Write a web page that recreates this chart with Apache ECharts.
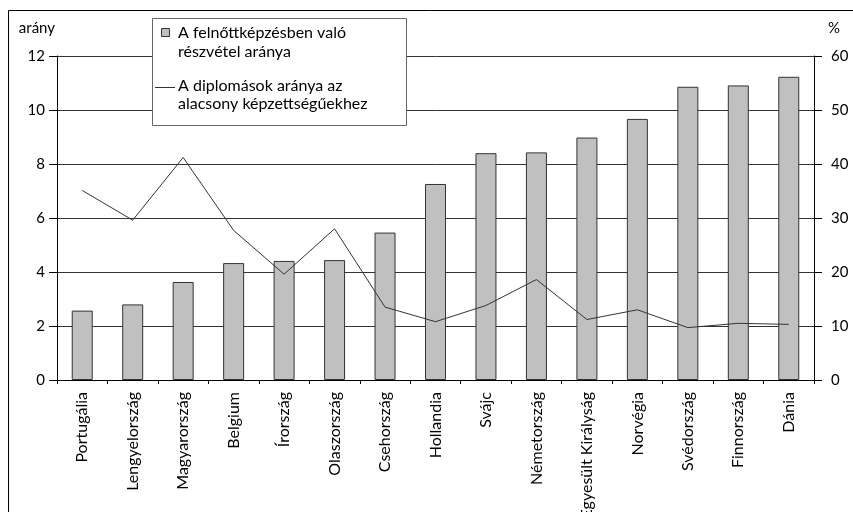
<!DOCTYPE html>
<html>
<head>
<meta charset="utf-8">
<script src="https://cdn.jsdelivr.net/npm/echarts@6/dist/echarts.min.js"></script>
<style>
html,body{margin:0;padding:0;background:#fff;}
#c{width:853px;height:512px;}
</style>
</head>
<body>
<div id="c"></div>
<script>
var categories = ['Portugália','Lengyelország','Magyarország','Belgium','Írország','Olaszország','Csehország','Hollandia','Svájc','Németország','Egyesült Királyság','Norvégia','Svédország','Finnország','Dánia'];
var participation = [2.57, 2.80, 3.63, 4.33, 4.41, 4.44, 5.46, 7.26, 8.40, 8.43, 8.98, 9.67, 10.86, 10.91, 11.23];
var graduatesPct = [35.1, 29.6, 41.2, 27.7, 19.6, 28.0, 13.5, 10.8, 13.8, 18.6, 11.2, 13.0, 9.7, 10.5, 10.3];
var leftTicks = [0, 2, 4, 6, 8, 10, 12];
var rightTicks = [0, 10, 20, 30, 40, 50, 60];
var seriesNames = ['A felnőttképzésben való\nrészvétel aránya', 'A diplomások aránya az\nalacsony képzettségűekhez'];

var FONT = 'Lato';
var chart = echarts.init(document.getElementById('c'), null, {renderer: 'canvas'});
chart.setOption({
  backgroundColor: '#fff',
  textStyle: {fontFamily: FONT, color: '#000'},
  animation: false,
  grid: {left: 57, right: 39, top: 56, bottom: 132, containLabel: false, outerBoundsMode: 'none'},
  xAxis: {
    type: 'category',
    data: categories,
    axisLine: {lineStyle: {color: '#000', width: 1}},
    axisTick: {show: true, length: 4, lineStyle: {color: '#000'}},
    axisLabel: {rotate: 90, fontSize: 16, color: '#000', margin: 12, fontFamily: FONT}
  },
  yAxis: [{
    type: 'value', min: leftTicks[0], max: leftTicks[leftTicks.length - 1], interval: 2,
    name: 'arány', nameLocation: 'end', nameGap: 20,
    nameTextStyle: {fontSize: 15, color: '#000', align: 'right', padding: [0, 2, 0, 0], fontFamily: FONT},
    axisLine: {show: true, lineStyle: {color: '#000'}},
    axisTick: {show: true, length: 8, lineStyle: {color: '#000'}},
    axisLabel: {fontSize: 15, color: '#000', margin: 12, fontFamily: FONT},
    splitLine: {show: true, lineStyle: {color: '#333', width: 1}}
  }, {
    type: 'value', min: rightTicks[0], max: rightTicks[rightTicks.length - 1], interval: 10,
    name: '%', nameLocation: 'end', nameGap: 20,
    nameTextStyle: {fontSize: 15, color: '#000', align: 'left', padding: [0, 0, 0, 14], fontFamily: FONT},
    axisLine: {show: true, lineStyle: {color: '#000'}},
    axisTick: {show: true, length: 8, lineStyle: {color: '#000'}},
    axisLabel: {fontSize: 15, color: '#000', margin: 17, fontFamily: FONT},
    splitLine: {show: false}
  }],
  series: [{
    name: seriesNames[0],
    type: 'bar',
    data: participation,
    barWidth: 21,
    itemStyle: {color: '#c0c0c0', borderColor: '#333', borderWidth: 1}
  }, {
    name: seriesNames[1],
    type: 'line',
    yAxisIndex: 1,
    data: graduatesPct,
    symbol: 'none',
    lineStyle: {color: '#333', width: 1}
  }],
  graphic: [
    {type: 'line', shape: {x1: 8.5, y1: 10.5, x2: 853, y2: 10.5}, style: {stroke: '#000', lineWidth: 1}},
    {type: 'line', shape: {x1: 8.5, y1: 10.5, x2: 8.5, y2: 512}, style: {stroke: '#000', lineWidth: 1}},
    {type: 'rect', z: 100, shape: {x: 152.5, y: 18.5, width: 254, height: 107}, style: {fill: '#fff', stroke: '#666', lineWidth: 1}},
    {type: 'rect', z: 101, shape: {x: 161.5, y: 28.5, width: 8, height: 8}, style: {fill: '#c0c0c0', stroke: '#333', lineWidth: 1}},
    {type: 'text', z: 101, left: 178, top: 23, style: {text: seriesNames[0], font: '16px ' + FONT, fill: '#000', lineHeight: 19}},
    {type: 'line', z: 101, shape: {x1: 155, y1: 87.5, x2: 175, y2: 87.5}, style: {stroke: '#333', lineWidth: 1}},
    {type: 'text', z: 101, left: 178, top: 77, style: {text: seriesNames[1], font: '16px ' + FONT, fill: '#000', lineHeight: 18}}
  ]
});
</script>
</body>
</html>
